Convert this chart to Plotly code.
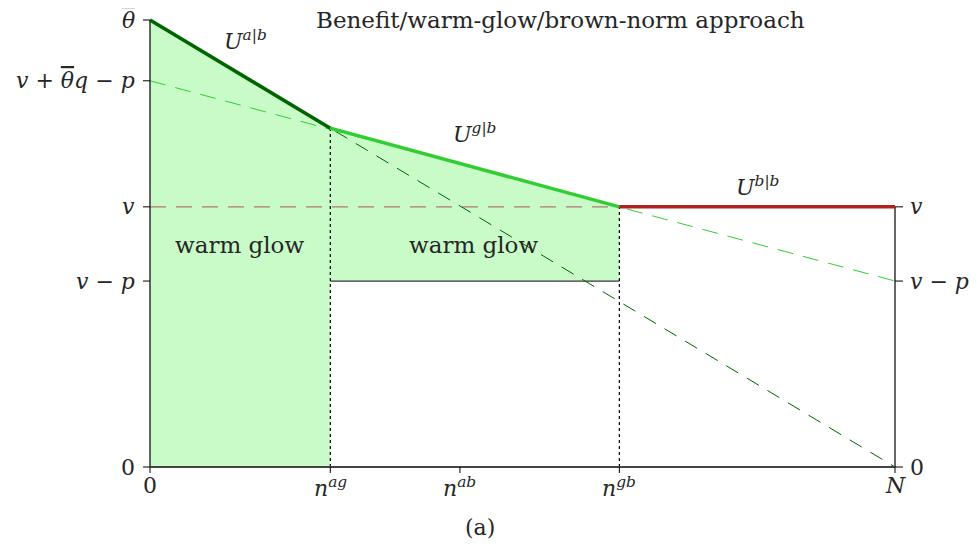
import plotly.graph_objects as go

# ---- data ----
N = 10.0
n_ag = 2.42
n_ab = 4.16
n_gb = 6.30
theta_bar = 10.0
v = 5.82
v_minus_p = 4.16
v_thq_p = 8.64          # v + theta_bar*q - p
kink_y = 7.58           # U at n_ag

TB = '<span style="text-decoration:overline">θ</span>'

x_tick_vals = [0, n_ag, n_ab, n_gb, N]
x_tick_text = ["0", "<i>n</i><sup><i>ag</i></sup>", "<i>n</i><sup><i>ab</i></sup>",
               "<i>n</i><sup><i>gb</i></sup>", "<i>N</i>"]
left_tick_vals = [0, v_minus_p, v, v_thq_p, theta_bar]
left_tick_text = ["0", "<i>v</i> − <i>p</i>", "<i>v</i>",
                  "<i>v</i> + <i>" + TB + "q</i> − <i>p</i>", "<i>" + TB + "</i>"]
right_tick_vals = [0, v_minus_p, v]
right_tick_text = ["0", "<i>v</i> − <i>p</i>", "<i>v</i>"]

U_ab_x = [0, n_ag]
U_ab_y = [theta_bar, kink_y]
U_gb_x = [n_ag, n_gb]
U_gb_y = [kink_y, v]
U_bb_x = [n_gb, N]
U_bb_y = [v, v]

dash_dark_x = [0, N]
dash_dark_y = [theta_bar, 0]
dash_light_x = [0, N]
dash_light_y = [v_thq_p, v_minus_p]
dash_v_x = [0, n_gb]
dash_v_y = [v, v]

FONT = "DejaVu Serif"
TXT = "#262626"

fig = go.Figure()

# fills
fig.add_trace(go.Scatter(x=[0, 0, n_ag, n_ag, 0], y=[0, theta_bar, kink_y, 0, 0],
                         fill="toself", fillcolor="#c9fbc9", mode="none",
                         hoverinfo="skip"))
fig.add_trace(go.Scatter(x=[n_ag, n_ag, n_gb, n_gb, n_ag],
                         y=[v_minus_p, kink_y, v, v_minus_p, v_minus_p],
                         fill="toself", fillcolor="#c9fbc9", mode="none",
                         hoverinfo="skip"))

def line(x, y, color, width, dash="solid"):
    fig.add_trace(go.Scatter(x=x, y=y, mode="lines", cliponaxis=False,
                             line=dict(color=color, width=width, dash=dash),
                             hoverinfo="skip"))

# v - p floor of second region
line([n_ag, n_gb], [v_minus_p, v_minus_p], "#333333", 1.2)
# dotted verticals
line([n_ag, n_ag], [0, kink_y], "#000000", 1.2, "dot")
line([n_gb, n_gb], [0, v], "#000000", 1.2, "dot")
# dashed reference lines
line(dash_v_x, dash_v_y, "#b07a70", 1.2, "16px,10px")
line(dash_dark_x, dash_dark_y, "#006400", 1, "14px,10px")
line(dash_light_x, dash_light_y, "#32cd32", 1, "16px,10px")
# axes
line([0, 0], [0, theta_bar], "#000000", 1.2)
line([N, N], [0, v], "#000000", 1.2)
line([0, N], [0, 0], "#444444", 1.8)
# utility curves
line(U_ab_x, U_ab_y, "#006400", 3.5)
line(U_gb_x, U_gb_y, "#32cd32", 3.5)
line(U_bb_x, U_bb_y, "#b22222", 3.5)

# tick marks
px_x = 74.5
px_y = 44.7
for yv in left_tick_vals:
    line([-7 / px_x, 0], [yv, yv], "#000000", 1)
for yv in right_tick_vals:
    line([N, N + 8 / px_x], [yv, yv], "#000000", 1)
for xv in x_tick_vals:
    line([xv, xv], [0, -6 / px_y], "#000000", 1)

ann = []
for xv, t in zip(x_tick_vals, x_tick_text):
    ann.append(dict(x=xv, y=0, text=t, xanchor="center", yanchor="top",
                    yshift=-4, showarrow=False, font=dict(size=22)))
for yv, t in zip(left_tick_vals, left_tick_text):
    ann.append(dict(x=0, y=yv, text=t, xanchor="right", yanchor="middle",
                    xshift=-13, showarrow=False, font=dict(size=22)))
for yv, t in zip(right_tick_vals, right_tick_text):
    ann.append(dict(x=N, y=yv, text=t, xanchor="left", yanchor="middle",
                    xshift=13, showarrow=False, font=dict(size=22)))

def pxd(px, py):
    # reference-picture pixel -> data coordinates
    return (px - 150) / px_x, (467 - py) / px_y

for (px, py), t, s in [((245, 40), "<i>U</i><sup><i>a|b</i></sup>", 22),
                       ((474, 133), "<i>U</i><sup><i>g|b</i></sup>", 22),
                       ((757, 186), "<i>U</i><sup><i>b|b</i></sup>", 22),
                       ((239, 245), "warm glow", 23),
                       ((473, 245), "warm glow", 23),
                       ((560, 20), "Benefit/warm-glow/brown-norm approach", 23),
                       ((480, 527), "(a)", 22)]:
    xd, yd = pxd(px, py)
    ann.append(dict(x=xd, y=yd, text=t, xanchor="center", yanchor="middle",
                    showarrow=False, font=dict(size=s)))

# page has an 8px body margin: figure origin sits at (8, 8) of the window
OFF = 8
W, H = 977 - OFF, 554 - OFF
x0 = -(150 - OFF) / px_x
x1 = N + (W - (895 - OFF)) / px_x
y1 = theta_bar + (20 - OFF) / px_y
y0 = -(H - (467 - OFF)) / px_y

fig.update_layout(
    width=W, height=H,
    margin=dict(l=0, r=0, t=0, b=0),
    paper_bgcolor="white", plot_bgcolor="white",
    showlegend=False,
    font=dict(family=FONT, color=TXT, size=22),
    xaxis=dict(range=[x0, x1], visible=False, fixedrange=True),
    yaxis=dict(range=[y0, y1], visible=False, fixedrange=True),
    annotations=ann,
)

fig.write_html("out.html")
